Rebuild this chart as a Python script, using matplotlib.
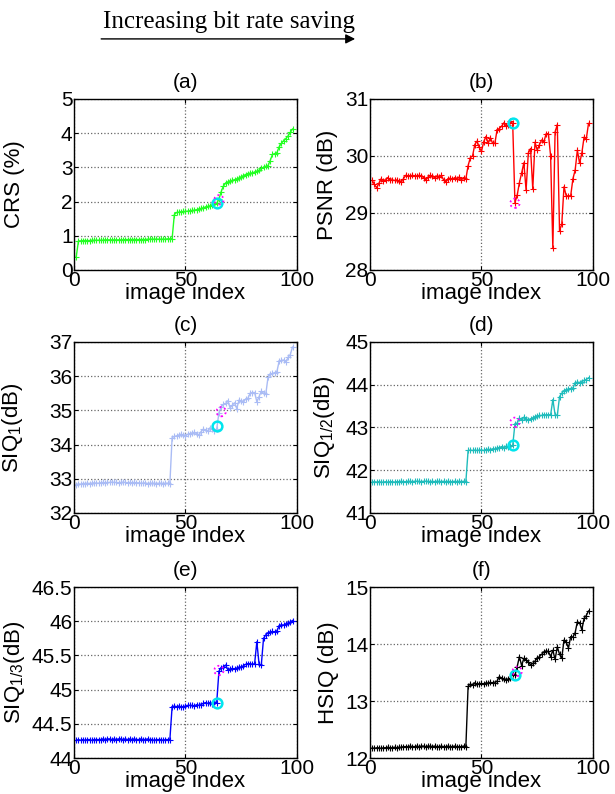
import matplotlib
matplotlib.use("Agg")
import matplotlib.pyplot as plt
from matplotlib.patches import FancyArrowPatch

plt.rcParams["font.family"] = ["Liberation Sans", "DejaVu Sans"]
plt.rcParams["mathtext.fontset"] = "custom"
plt.rcParams["mathtext.rm"] = "Liberation Sans"
plt.rcParams["mathtext.it"] = "Liberation Sans"

# image index 1..98 (sorted by bit rate saving)
image_index = list(range(1, 99))

crs = [0.38, 0.85, 0.85, 0.86, 0.86, 0.86, 0.86, 0.87, 0.87, 0.87,
       0.87, 0.87, 0.87, 0.88, 0.88, 0.88, 0.88, 0.88, 0.88, 0.88,
       0.88, 0.88, 0.89, 0.89, 0.89, 0.89, 0.89, 0.89, 0.89, 0.89,
       0.89, 0.89, 0.90, 0.90, 0.90, 0.90, 0.90, 0.90, 0.90, 0.90,
       0.90, 0.91, 0.91, 0.91, 1.62, 1.68, 1.69, 1.70, 1.71, 1.71,
       1.72, 1.73, 1.74, 1.75, 1.76, 1.78, 1.80, 1.82, 1.84, 1.86,
       1.87, 1.89, 1.92, 1.95, 2.07, 2.29, 2.45, 2.54, 2.57, 2.60,
       2.62, 2.64, 2.66, 2.68, 2.72, 2.76, 2.79, 2.82, 2.83, 2.84,
       2.86, 2.88, 2.92, 2.97, 3.00, 3.03, 3.05, 3.20, 3.38, 3.40,
       3.43, 3.60, 3.70, 3.78, 3.84, 3.92, 4.02, 4.12]

psnr = [29.57, 29.50, 29.44, 29.52, 29.60, 29.56, 29.58, 29.62, 29.58, 29.58,
        29.57, 29.58, 29.56, 29.55, 29.60, 29.66, 29.65, 29.65, 29.66, 29.65,
        29.65, 29.66, 29.65, 29.62, 29.57, 29.63, 29.66, 29.64, 29.62, 29.65,
        29.63, 29.66, 29.58, 29.54, 29.60, 29.61, 29.59, 29.62, 29.60, 29.63,
        29.58, 29.62, 29.60, 29.83, 29.97, 30.00, 30.20, 30.26, 30.15, 30.08,
        30.25, 30.34, 30.22, 30.32, 30.22, 30.22, 30.46, 30.48, 30.52, 30.58,
        30.53, 30.54, 30.61, 30.57, 29.18, 29.31, 29.53, 29.70, 29.88, 29.40,
        30.05, 30.13, 29.42, 30.24, 30.10, 30.20, 30.28, 30.25, 30.39, 30.39,
        30.00, 28.38, 30.42, 30.55, 28.69, 28.80, 29.46, 29.30, 29.30, 29.30,
        29.60, 29.75, 30.10, 29.87, 30.05, 30.33, 30.30, 30.57]

siq_1 = [32.83, 32.85, 32.84, 32.86, 32.86, 32.87, 32.86, 32.87, 32.88, 32.87,
         32.87, 32.88, 32.89, 32.88, 32.89, 32.89, 32.90, 32.89, 32.89, 32.88,
         32.89, 32.90, 32.89, 32.88, 32.89, 32.88, 32.89, 32.87, 32.88, 32.87,
         32.87, 32.88, 32.86, 32.87, 32.87, 32.87, 32.86, 32.87, 32.87, 32.86,
         32.87, 32.87, 32.86, 34.20, 34.24, 34.25, 34.27, 34.30, 34.28, 34.25,
         34.30, 34.32, 34.33, 34.36, 34.32, 34.28, 34.38, 34.45, 34.42, 34.40,
         34.49, 34.45, 34.40, 34.45, 34.93, 35.10, 35.17, 35.20, 35.28, 35.07,
         35.15, 35.22, 35.05, 35.30, 35.27, 35.25, 35.33, 35.35, 35.50, 35.52,
         35.52, 35.25, 35.40, 35.56, 35.50, 35.47, 35.96, 36.05, 36.08, 36.10,
         36.13, 36.44, 36.46, 36.47, 36.40, 36.55, 36.63, 36.85]

siq_half = [41.72, 41.73, 41.72, 41.73, 41.72, 41.72, 41.73, 41.72, 41.73, 41.73,
            41.72, 41.73, 41.73, 41.74, 41.73, 41.73, 41.74, 41.74, 41.73, 41.74,
            41.74, 41.74, 41.73, 41.74, 41.74, 41.74, 41.73, 41.74, 41.73, 41.74,
            41.74, 41.73, 41.74, 41.73, 41.74, 41.73, 41.73, 41.74, 41.73, 41.74,
            41.73, 41.74, 41.73, 42.46, 42.47, 42.46, 42.47, 42.46, 42.47, 42.47,
            42.46, 42.48, 42.49, 42.48, 42.50, 42.49, 42.52, 42.53, 42.55, 42.53,
            42.56, 42.55, 42.56, 42.58, 43.08, 43.10, 43.22, 43.17, 43.24, 43.20,
            43.18, 43.20, 43.22, 43.25, 43.27, 43.28, 43.28, 43.30, 43.29, 43.30,
            43.29, 43.65, 43.30, 43.28, 43.72, 43.80, 43.86, 43.88, 43.90, 43.91,
            43.92, 44.04, 44.06, 44.05, 44.07, 44.10, 44.12, 44.16]

siq_third = [44.26, 44.27, 44.26, 44.27, 44.26, 44.27, 44.27, 44.26, 44.27, 44.27,
             44.27, 44.27, 44.28, 44.27, 44.28, 44.28, 44.27, 44.28, 44.27, 44.28,
             44.28, 44.27, 44.28, 44.27, 44.28, 44.27, 44.28, 44.27, 44.27, 44.28,
             44.27, 44.27, 44.28, 44.27, 44.27, 44.26, 44.27, 44.27, 44.27, 44.26,
             44.27, 44.27, 44.27, 44.75, 44.76, 44.75, 44.76, 44.75, 44.75, 44.76,
             44.77, 44.77, 44.77, 44.76, 44.78, 44.77, 44.78, 44.80, 44.81, 44.80,
             44.81, 44.79, 44.82, 44.81, 45.27, 45.32, 45.33, 45.36, 45.29, 45.30,
             45.31, 45.30, 45.31, 45.33, 45.33, 45.35, 45.37, 45.38, 45.38, 45.37,
             45.38, 45.70, 45.37, 45.36, 45.75, 45.80, 45.83, 45.84, 45.85, 45.84,
             45.86, 45.93, 45.95, 45.94, 45.96, 45.97, 45.99, 46.01]

hsiq = [12.18, 12.17, 12.18, 12.18, 12.17, 12.18, 12.18, 12.19, 12.18, 12.18,
        12.19, 12.18, 12.19, 12.19, 12.20, 12.20, 12.20, 12.21, 12.20, 12.20,
        12.21, 12.20, 12.21, 12.21, 12.20, 12.21, 12.21, 12.20, 12.21, 12.20,
        12.20, 12.21, 12.20, 12.20, 12.21, 12.20, 12.20, 12.21, 12.20, 12.20,
        12.20, 12.21, 12.20, 13.26, 13.30, 13.28, 13.32, 13.29, 13.30, 13.31,
        13.29, 13.32, 13.31, 13.33, 13.31, 13.32, 13.35, 13.43, 13.40, 13.39,
        13.37, 13.38, 13.40, 13.48, 13.45, 13.60, 13.78, 13.62, 13.75, 13.72,
        13.69, 13.63, 13.66, 13.70, 13.75, 13.78, 13.82, 13.86, 13.88, 13.87,
        13.78, 13.89, 13.73, 13.95, 13.82, 13.75, 14.07, 14.03, 13.93, 14.13,
        14.12, 14.20, 14.39, 14.37, 14.25, 14.45, 14.50, 14.58]

# highlighted images (cyan circle / magenta dotted circle)
cyan_index = [64, 64, 64, 64, 64, 65]
cyan_value = [1.95, 30.57, 34.55, 42.58, 44.81, 13.45]
magenta_index = [65, 65, 66, 65, 65, 66]
magenta_value = [2.05, 29.17, 34.96, 43.12, 45.28, 13.52]

panel_titles = ["(a)", "(b)", "(c)", "(d)", "(e)", "(f)"]
y_labels = ["CRS (%)", "PSNR (dB)", r"SIQ$_1$(dB)", r"SIQ$_{1/2}$(dB)",
            r"SIQ$_{1/3}$(dB)", "HSIQ (dB)"]
y_limits = [(0, 5), (28, 31), (32, 37), (41, 45), (44, 46.5), (12, 15)]
y_ticks = [[0, 1, 2, 3, 4, 5], [28, 29, 30, 31], [32, 33, 34, 35, 36, 37],
           [41, 42, 43, 44, 45], [44, 44.5, 45, 45.5, 46, 46.5], [12, 13, 14, 15]]
y_ticklabels = [["0", "1", "2", "3", "4", "5"], ["28", "29", "30", "31"],
                ["32", "33", "34", "35", "36", "37"], ["41", "42", "43", "44", "45"],
                ["44", "44.5", "45", "45.5", "46", "46.5"], ["12", "13", "14", "15"]]
series = [crs, psnr, siq_1, siq_half, siq_third, hsiq]
colors = ["#22ff22", "#ff0000", "#aabcf5", "#1fbcbc", "#0000ff", "#000000"]
ylabel_x = [-0.22, -0.145, -0.22, -0.15, -0.21, -0.14]

fig = plt.figure(figsize=(6.15, 7.94), dpi=100)

lefts = [0.1203, 0.6016]
bottoms = [0.660, 0.354, 0.0453]
w, h = 0.3626, 0.2154

for i in range(6):
    ax = fig.add_axes([lefts[i % 2], bottoms[i // 2], w, h])
    ax.plot(image_index, series[i], color=colors[i], marker="+", markersize=4,
            linewidth=1, markeredgewidth=0.8)
    ax.plot(cyan_index[i], cyan_value[i], "o", markersize=7, markerfacecolor="none",
            markeredgecolor="#00e5ee", markeredgewidth=1.8)
    ax.scatter([magenta_index[i]], [magenta_value[i]], s=45, facecolors="none",
               edgecolors="#ff00ff", linestyles=":", linewidths=1.3, zorder=5)
    ax.set_xlim(0, 100)
    ax.set_ylim(*y_limits[i])
    ax.set_xticks([0, 50, 100])
    ax.set_yticks(y_ticks[i])
    ax.set_yticklabels(y_ticklabels[i])
    ax.tick_params(direction="in", length=3, labelsize=15, pad=1,
                   top=True, right=True)
    ax.grid(True, linestyle=":", color="#666666", linewidth=0.9)
    ax.set_title(panel_titles[i], fontsize=15, pad=8)
    ax.set_xlabel("image index", fontsize=16, labelpad=-5)
    ax.set_ylabel(y_labels[i], fontsize=16)
    ax.yaxis.set_label_coords(ylabel_x[i], 0.5)
    for s in ax.spines.values():
        s.set_linewidth(1.0)

fig.text(0.167, 0.965, "Increasing bit rate saving", fontsize=18,
         family=["Liberation Serif", "DejaVu Serif"])
arrow = FancyArrowPatch((0.160, 0.951), (0.582, 0.951), transform=fig.transFigure,
                        arrowstyle="-|>", mutation_scale=14, color="black", linewidth=1)
fig.add_artist(arrow)

fig.savefig("out.png", dpi=100)
